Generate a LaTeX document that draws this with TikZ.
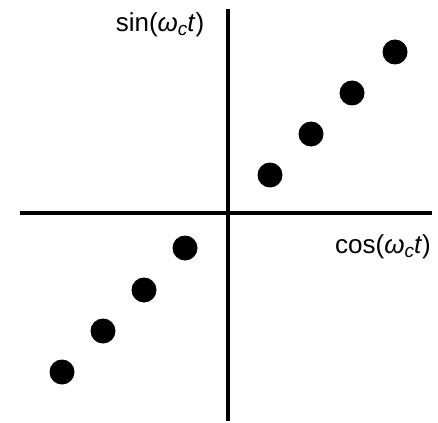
\documentclass[tikz,border=0pt]{standalone}
\usepackage{fontspec}
\setmainfont{Liberation Sans}
\usepackage{tikz}
\newcommand{\wct}{\textit{ω}\raisebox{-0.3ex}{\fontsize{19}{19}\selectfont\textit{c}}\textit{t}}
\tikzset{
    symbol/.style={circle, fill=black, inner sep=0pt, minimum size=25pt},
    axis/.style={line width=3.2pt},
    axlabel/.style={font=\fontsize{26}{30}\selectfont}
}

\begin{document}
\begin{tikzpicture}[x=1pt,y=-1pt]
        \useasboundingbox (0,0) rectangle (438,422);

        % Axes
        \coordinate (xl) at (20,213);
        \coordinate (xr) at (432,213);
        \coordinate (yt) at (228,9);
        \coordinate (yb) at (228,421);
        \draw[axis] (xl) -- (xr);
        \draw[axis] (yt) -- (yb);

        % Constellation points
        \foreach \x/\y [count=\i] in {62/372, 103/331, 144/290, 185/248, 270/175, 311/134, 352/93, 395/52}
            \node[symbol] (s\i) at (\x,\y) {};

        \node[axlabel] (sinlbl) at (160,25) {sin(\wct)};
        \node[axlabel] (coslbl) at (383,247) {cos(\wct)};
    \end{tikzpicture}
\end{document}
